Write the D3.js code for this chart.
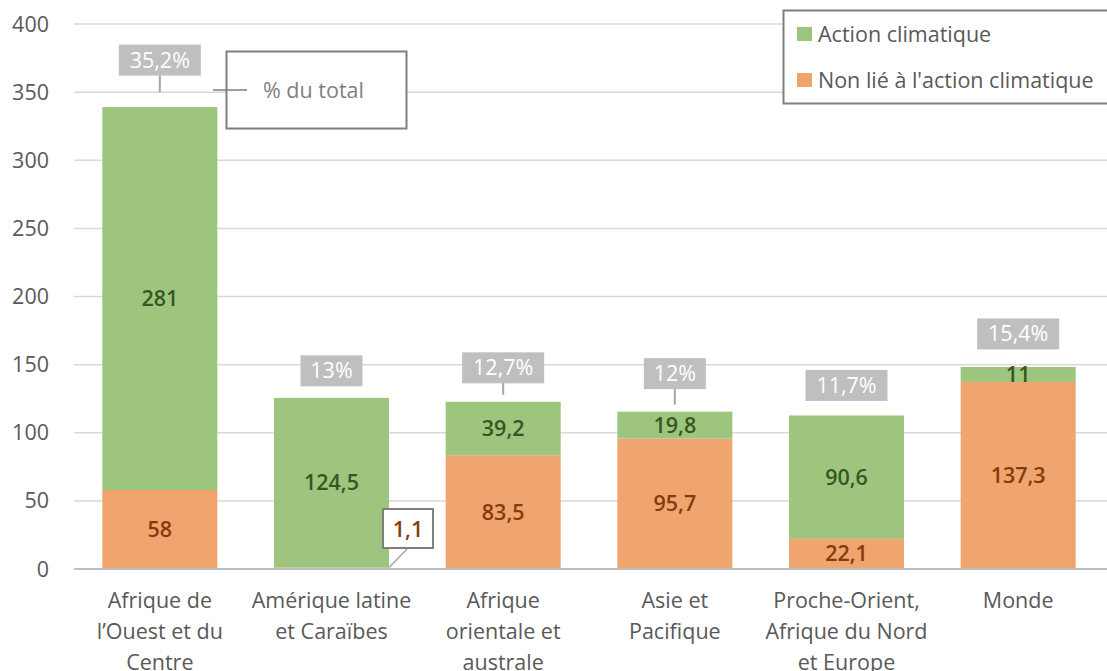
<!DOCTYPE html>
<meta charset="utf-8">
<html>
<head>
  <script src="https://cdn.jsdelivr.net/npm/d3@7"></script>
  <style>
    body { margin: 0; background: #fff; }
    text { font-family: "Open Sans", "Noto Sans", sans-serif; }
  </style>
</head>
<body>
<div id="chart"></div>
<script>
  // data
  const regions = [
    ["Afrique de", "l’Ouest et du", "Centre"],
    ["Amérique latine", "et Caraïbes"],
    ["Afrique", "orientale et", "australe"],
    ["Asie et", "Pacifique"],
    ["Proche-Orient,", "Afrique du Nord", "et Europe"],
    ["Monde"]
  ];
  const nonClimat = [58, 1.1, 83.5, 95.7, 22.1, 137.3];
  const climat = [281, 124.5, 39.2, 19.8, 90.6, 11];
  const nonClimatLabels = ["58", "1,1", "83,5", "95,7", "22,1", "137,3"];
  const climatLabels = ["281", "124,5", "39,2", "19,8", "90,6", "11"];
  const pctLabels = ["35,2%", "13%", "12,7%", "12%", "11,7%", "15,4%"];
  const yTicks = [0, 50, 100, 150, 200, 250, 300, 350, 400];
  const seriesNames = ["Action climatique", "Non lié à l'action climatique"];

  // layout for the % boxes (pixels above the bar top, leader line or not)
  const pctOffset = [47, 27, 34, 38, 30, 33];
  const pctLeader = [true, false, true, true, false, false];

  const width = 1107, height = 671;
  const margin = {top: 24, right: 3, bottom: 102, left: 74};
  const green = "#9dc57e", orange = "#f0a46e";
  const fs = 21.5;

  const svg = d3.select("#chart").append("svg")
      .attr("width", width).attr("height", height);

  const x = d3.scaleBand()
      .domain(d3.range(regions.length))
      .range([margin.left, width - margin.right])
      .paddingInner(0.33).paddingOuter(0.165);
  const y = d3.scaleLinear().domain([0, 400]).range([height - margin.bottom, margin.top]);

  // grid
  svg.append("g").selectAll("line")
    .data(yTicks.filter(d => d > 0))
    .enter().append("line")
      .attr("x1", margin.left).attr("x2", width)
      .attr("y1", d => y(d)).attr("y2", d => y(d))
      .attr("stroke", "#d9d9d9").attr("stroke-width", 1.5);

  // y labels
  svg.append("g").selectAll("text")
    .data(yTicks)
    .enter().append("text")
      .attr("x", 49).attr("y", d => y(d)).attr("dy", "0.35em")
      .attr("text-anchor", "end")
      .attr("font-size", fs).attr("fill", "#595959")
      .text(d => d);

  const bars = svg.append("g");
  bars.selectAll("rect.nc")
    .data(nonClimat)
    .enter().append("rect").attr("class", "nc")
      .attr("x", (d, i) => x(i)).attr("width", x.bandwidth())
      .attr("y", d => y(d)).attr("height", d => y(0) - y(d))
      .attr("fill", orange);
  bars.selectAll("rect.c")
    .data(climat)
    .enter().append("rect").attr("class", "c")
      .attr("x", (d, i) => x(i)).attr("width", x.bandwidth())
      .attr("y", (d, i) => y(d + nonClimat[i])).attr("height", d => y(0) - y(d))
      .attr("fill", green);

  // zero axis line
  svg.append("line")
    .attr("x1", margin.left).attr("x2", width)
    .attr("y1", y(0)).attr("y2", y(0))
    .attr("stroke", "#bfbfbf").attr("stroke-width", 2);

  const cx = i => x(i) + x.bandwidth() / 2;

  // value labels
  svg.append("g").selectAll("text")
    .data(climat)
    .enter().append("text")
      .attr("x", (d, i) => cx(i))
      .attr("y", (d, i) => y(nonClimat[i] + d / 2)).attr("dy", "0.35em")
      .attr("text-anchor", "middle").attr("font-size", fs).attr("font-weight", 600)
      .attr("fill", "#375623")
      .text((d, i) => climatLabels[i]);

  svg.append("g").selectAll("text")
    .data(nonClimat.map((v, i) => ({v, i})).filter(d => d.v > 5))
    .enter().append("text")
      .attr("x", d => cx(d.i))
      .attr("y", d => y(d.v / 2)).attr("dy", "0.35em")
      .attr("text-anchor", "middle").attr("font-size", fs).attr("font-weight", 600)
      .attr("fill", "#843c0c")
      .text(d => nonClimatLabels[d.i]);

  // small value callout (1,1)
  const small = svg.append("g");
  const si = 1;
  const bx = x(si) + x.bandwidth() - 6, by = y(0) - 60;
  small.append("line")
    .attr("x1", x(si) + x.bandwidth()).attr("y1", y(nonClimat[si]))
    .attr("x2", bx + 24).attr("y2", by + 40)
    .attr("stroke", "#a6a6a6").attr("stroke-width", 1.5);
  small.append("rect")
    .attr("x", bx).attr("y", by).attr("width", 50).attr("height", 39)
    .attr("fill", "#fff").attr("stroke", "#7f7f7f").attr("stroke-width", 2);
  small.append("text")
    .attr("x", bx + 25).attr("y", by + 20).attr("dy", "0.35em")
    .attr("text-anchor", "middle").attr("font-size", fs).attr("font-weight", 600)
    .attr("fill", "#843c0c").text(nonClimatLabels[si]);

  // percentage boxes
  const pct = svg.append("g").selectAll("g")
    .data(pctLabels)
    .enter().append("g");
  pct.each(function(d, i) {
    const g = d3.select(this);
    const top = y(nonClimat[i] + climat[i]);
    const cy = top - pctOffset[i];
    const w = d.length > 3 ? 82 : 62;
    if (pctLeader[i]) {
      g.append("line")
        .attr("x1", cx(i)).attr("x2", cx(i))
        .attr("y1", cy + 15).attr("y2", top - 15 + (i === 0 ? 0 : 8))
        .attr("stroke", "#a6a6a6").attr("stroke-width", 2);
    }
    g.append("rect")
      .attr("x", cx(i) - w / 2).attr("y", cy - 15.5)
      .attr("width", w).attr("height", 31)
      .attr("fill", "#bfbfbf");
    g.append("text")
      .attr("x", cx(i)).attr("y", cy).attr("dy", "0.35em")
      .attr("text-anchor", "middle").attr("font-size", fs)
      .attr("fill", "#fff").text(d);
  });

  // "% du total" annotation
  const note = svg.append("g");
  note.append("rect")
    .attr("x", 226.5).attr("y", 51.5).attr("width", 180).attr("height", 77)
    .attr("fill", "#fff").attr("stroke", "#7f7f7f").attr("stroke-width", 2);
  note.append("line")
    .attr("x1", 213).attr("x2", 247).attr("y1", 90).attr("y2", 90)
    .attr("stroke", "#7f7f7f").attr("stroke-width", 1.5);
  note.append("text")
    .attr("x", 263).attr("y", 90).attr("dy", "0.35em")
    .attr("font-size", fs).attr("fill", "#7f7f7f").text("% du total");

  // x labels
  const xl = svg.append("g").selectAll("text")
    .data(regions)
    .enter().append("text")
      .attr("x", (d, i) => cx(i)).attr("y", 600)
      .attr("text-anchor", "middle").attr("font-size", fs).attr("fill", "#595959");
  xl.selectAll("tspan")
    .data(d => d)
    .enter().append("tspan")
      .attr("x", function() { return d3.select(this.parentNode).attr("x"); })
      .attr("dy", (d, i) => i === 0 ? "0.35em" : 31)
      .text(d => d);

  // legend
  const leg = svg.append("g");
  leg.append("rect")
    .attr("x", 783.5).attr("y", 10.5).attr("width", 340).attr("height", 93)
    .attr("fill", "#fff").attr("stroke", "#7f7f7f").attr("stroke-width", 2);
  const items = leg.selectAll("g.item")
    .data(seriesNames)
    .enter().append("g").attr("class", "item")
      .attr("transform", (d, i) => `translate(797, ${34 + i * 46})`);
  items.append("rect")
    .attr("x", 0).attr("y", -7).attr("width", 15).attr("height", 14)
    .attr("fill", (d, i) => i === 0 ? green : orange);
  items.append("text")
    .attr("x", 21).attr("y", 0).attr("dy", "0.35em")
    .attr("font-size", fs).attr("fill", "#595959")
    .text(d => d);
</script>
</body>
</html>
